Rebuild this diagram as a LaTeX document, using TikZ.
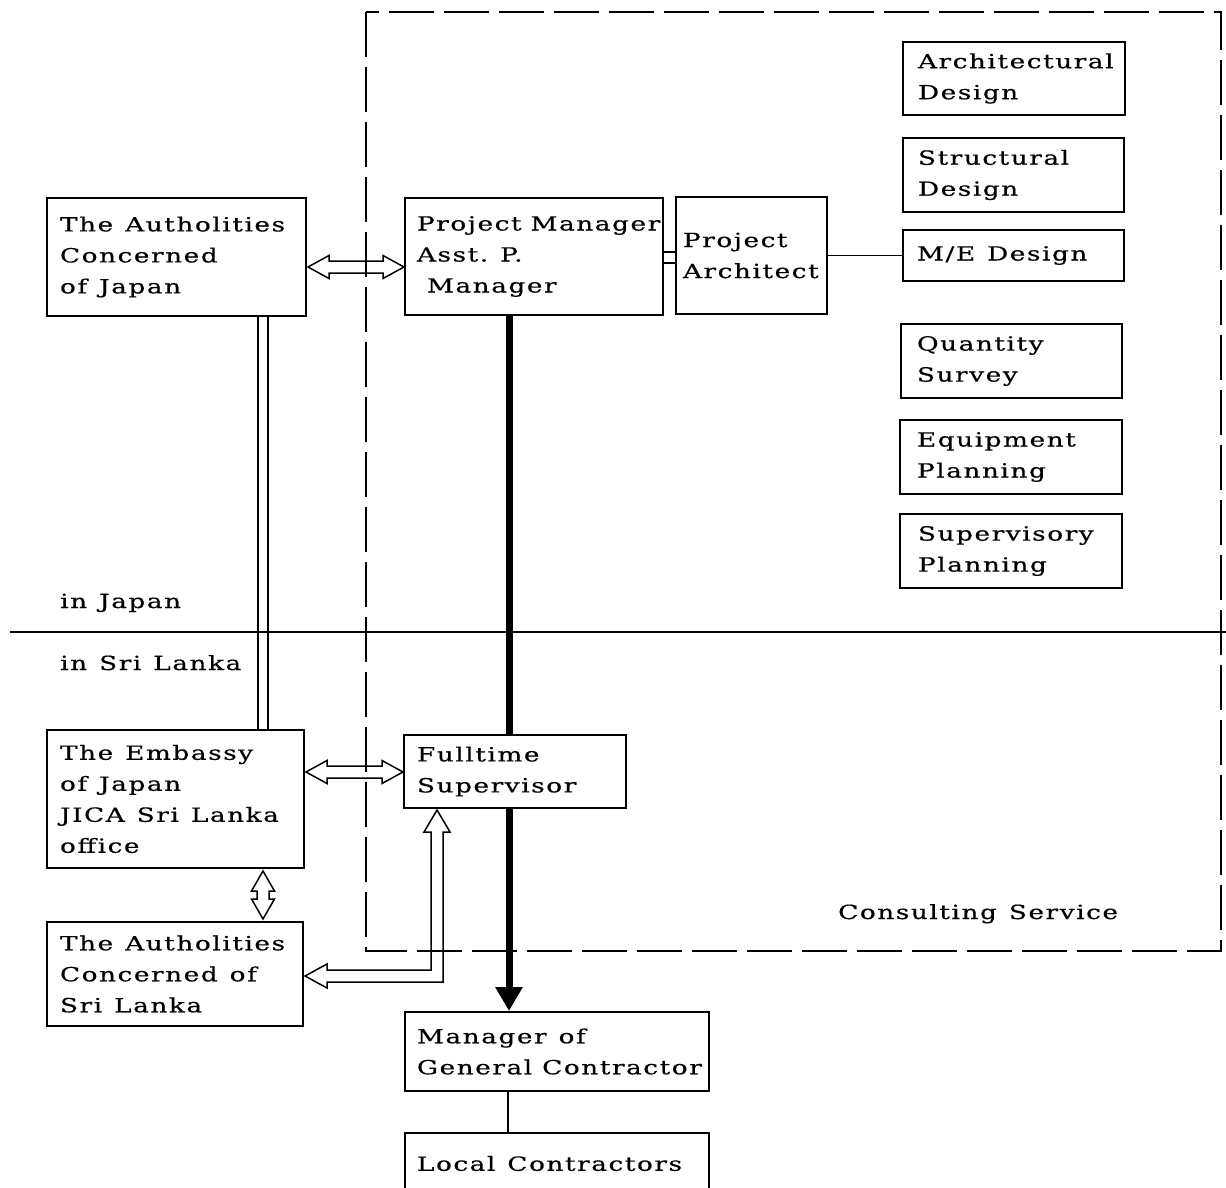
\documentclass[tikz,border=0pt]{standalone}
\usepackage{fontspec}
\setmainfont{DejaVu Serif}[LetterSpace=8,FakeStretch=1.35,FakeBold=0.5]
\usetikzlibrary{arrows.meta,calc}
\pgfdeclarelayer{bg}
\pgfsetlayers{bg,main}
\newcommand\ws{\hspace*{12pt}}
\newcommand\lin[1]{\mbox{#1}}
\tikzset{
  box/.style={draw, line width=2pt, fill=white, align=left, inner ysep=0pt,
    font=\fontsize{19.5}{31}\selectfont},
  lbl/.style={anchor=base west, inner sep=0pt, font=\fontsize{19.5}{31}\selectfont},
  hol/.style={draw, line width=1.5pt, line join=miter},
  frame/.style={line width=1.8pt, dash pattern=on 45pt off 10pt},
  thickarrow/.style={line width=7pt, -{Triangle[width=26pt,length=24pt]}},
  thin/.style={line width=1.6pt}
}
\newcommand\bx[7]{%
  \pgfmathsetmacro\bw{#4-#2}%
  \pgfmathsetmacro\bh{#5-#3}%
  \pgfmathsetmacro\tw{#4-#2-2*#6}%
  \node[box, minimum width=\bw pt, minimum height=\bh pt, text width=\tw pt, inner xsep=#6pt]
    (#1) at ({(#2+#4)/2},{(#3+#5)/2}) {#7};}
\newcommand\hollowH[2]{%
  \draw[hol] (#1) -- ($(#1)+(21,-11.5)$) -- ($(#1)+(21,-6)$) -- ($(#2)+(-21,-6)$)
   -- ($(#2)+(-21,-11.5)$) -- (#2) -- ($(#2)+(-21,11.5)$) -- ($(#2)+(-21,6)$)
   -- ($(#1)+(21,6)$) -- ($(#1)+(21,11.5)$) -- cycle;}
\newcommand\hollowV[2]{%
  \draw[hol] (#1) -- ($(#1)+(11.5,20)$) -- ($(#1)+(6,20)$) -- ($(#2)+(6,-20)$)
   -- ($(#2)+(11.5,-20)$) -- (#2) -- ($(#2)+(-11.5,-20)$) -- ($(#2)+(-6,-20)$)
   -- ($(#1)+(-6,20)$) -- ($(#1)+(-11.5,20)$) -- cycle;}
\begin{document}
\begin{tikzpicture}[x=1pt,y=-1pt]
\useasboundingbox (0,0) rectangle (1226,1188);
% boxes
\bx{aj}{47}{198}{306}{316}{13}{\lin{The\ws Autholities}\\\lin{Concerned}\\\lin{of\ws Japan}}
\bx{pm}{405}{198}{663}{315}{12}{\lin{Project\hspace*{9pt}Manager}\\\lin{Asst.\ws P.}\\\lin{\hspace*{10pt}Manager}}
\bx{pa}{676}{197}{827}{314}{7}{\lin{Project}\\\lin{Architect}}
\bx{ad}{903}{42}{1125}{115}{15}{\lin{Architectural}\\\lin{Design}}
\bx{sd}{903}{138}{1124}{212}{15}{\lin{Structural}\\\lin{Design}}
\bx{me}{903}{230}{1124}{281}{14}{\lin{M/E\ws Design}}
\bx{qs}{901}{324}{1122}{398}{16}{\lin{Quantity}\\\lin{Survey}}
\bx{ep}{900}{420}{1122}{494}{17}{\lin{Equipment}\\\lin{Planning}}
\bx{sp}{900}{514}{1122}{588}{18}{\lin{Supervisory}\\\lin{Planning}}
\bx{emb}{47}{730}{304}{868}{13}{\lin{The\ws Embassy}\\\lin{of\ws Japan}\\\lin{JICA\ws Sri\ws Lanka}\\\lin{office}}
\bx{fs}{404}{735}{626}{808}{13}{\lin{Fulltime}\\\lin{Supervisor}}
\bx{asl}{47}{922}{303}{1026}{13}{\lin{The\ws Autholities}\\\lin{Concerned\ws of}\\\lin{Sri\ws Lanka}}
\bx{mgc}{405}{1012}{709}{1091}{12}{\lin{Manager\ws of}\\\lin{General\hspace*{10pt}Contractor}}
\bx{lc}{405}{1133}{709}{1194}{12}{\lin{Local\ws Contractors}}
% labels
\node[lbl] (lj) at (60,608) {in\ws Japan};
\node[lbl] (ls) at (60,670) {in\ws Sri\ws Lanka};
\node[lbl] (cs) at (838,919) {Consulting\ws Service};
\begin{pgfonlayer}{bg}
  % consulting frame
  \coordinate (f1) at (366,12);
  \coordinate (f2) at (1221,951);
  \draw[frame] (f1) rectangle (f2);
  % divider
  \coordinate (d1) at (10,632);
  \coordinate (d2) at (1226,632);
  \draw[thin] (d1) -- (d2);
  % thick arrow PM -> manager of GC
  \coordinate (t1) at ($(pm.south)+(-25,0)$);
  \draw[thickarrow] (t1) -- (t1 |- mgc.north);
  % double line Japan authorities -- embassy
  \coordinate (v1) at ($(aj.south)+(81.5,0)$);
  \coordinate (v2) at ($(aj.south)+(91.5,0)$);
  \draw[thin] (v1) -- (v1 |- emb.north);
  \draw[thin] (v2) -- (v2 |- emb.north);
  % hollow arrows
  \coordinate (a1) at ($(aj.east)+(1,10)$);
  \coordinate (a2) at (a1 -| pm.west);
  \hollowH{a1}{a2}
  \coordinate (b1) at ($(emb.east)+(1,-27)$);
  \coordinate (b2) at (b1 -| fs.west);
  \hollowH{b1}{b2}
  \coordinate (c1) at ($(emb.south)+(87.5,2)$);
  \coordinate (c2) at ($(c1 |- asl.north)+(0,-2)$);
  \hollowV{c1}{c2}
  % L-shaped hollow arrow
  \coordinate (L) at ($(asl.east)+(1,2)$);
  \coordinate (T) at ($(fs.south)+(-78,1)$);
  \coordinate (Ti) at ($(T)+(-6,0)$);
  \coordinate (To) at ($(T)+(6,0)$);
  \coordinate (Li) at ($(L)+(0,-6)$);
  \coordinate (Lo) at ($(L)+(0,6)$);
  \draw[hol] (L) -- ($(L)+(22,-12)$) -- ($(L)+(22,-6)$) -- (Ti |- Li)
    -- ($(T)+(-6,22)$) -- ($(T)+(-13,22)$) -- (T) -- ($(T)+(13,22)$)
    -- ($(T)+(6,22)$) -- (To |- Lo) -- ($(L)+(22,6)$) -- ($(L)+(22,12)$) -- cycle;
  % PM -- Project Architect small double connector
  \coordinate (p1) at ($(pm.east)+(0,-4.5)$);
  \coordinate (p2) at ($(pm.east)+(0,6.5)$);
  \draw[thin] (p1) -- (p1 -| pa.west);
  \draw[thin] (p2) -- (p2 -| pa.west);
  % Project Architect -- M/E design
  \draw[thin] (pa.east) -- (me.west);
  % manager GC -- local contractors
  \coordinate (q1) at ($(mgc.south)+(-49,0)$);
  \draw[thin] (q1) -- (q1 |- lc.north);
\end{pgfonlayer}
\end{tikzpicture}
\end{document}
